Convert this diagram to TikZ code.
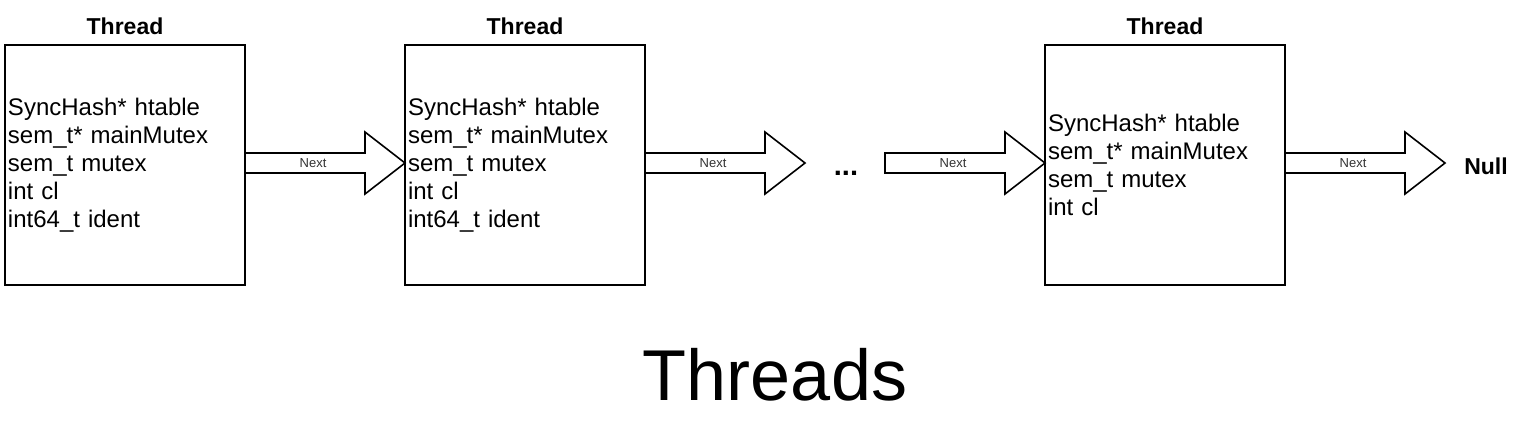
\documentclass[tikz,border=0pt]{standalone}
\usepackage{fontspec}
\setmainfont{Liberation Sans}
\usetikzlibrary{positioning,calc}

\tikzset{
  threadbox/.style={draw, line width=2pt, minimum width=240pt, minimum height=240pt,
    text width=234pt, inner xsep=3pt, inner ysep=0pt, outer sep=0pt, align=left,
    font=\fontsize{24}{28}\selectfont},
  threadtitle/.style={inner sep=0pt, font=\fontsize{23}{27}\selectfont\bfseries},
  arrowbody/.style={draw, fill=white, line width=1.6pt, line join=miter},
  nextlabel/.style={inner sep=1pt, font=\fontsize{13}{15}\selectfont, text=black!80},
  endlabel/.style={inner sep=0pt, font=\fontsize{23}{27}\selectfont\bfseries}
}

% block arrow from #1 to #2, label node #3
\newcommand{\nextarrow}[3]{%
  \draw[arrowbody] ($(#1)+(0,-12)$) -- ($(#2)+(-40,-12)$) -- ($(#2)+(-40,-33)$)
    -- ($(#2)+(0,-2)$) -- ($(#2)+(-40,29)$) -- ($(#2)+(-40,8)$) -- ($(#1)+(0,8)$) -- cycle;
  \node[nextlabel] (#3) at ($(#1)!0.425!(#2)+(0,-2)$) {Next};
}

\begin{document}
\begin{tikzpicture}[x=1pt,y=-1pt]

  \useasboundingbox (0,0) rectangle (1530,440);

  \node[threadbox] (t1) at (125,165) {SyncHash* htable\\sem\_t* mainMutex\\sem\_t mutex\\int cl\\int64\_t ident};
  \node[threadbox, right=160pt of t1] (t2) {SyncHash* htable\\sem\_t* mainMutex\\sem\_t mutex\\int cl\\int64\_t ident};
  \node[threadbox] (t3) at (1165,165) {SyncHash* htable\\sem\_t* mainMutex\\sem\_t mutex\\int cl};

  \node[threadtitle, above=10pt of t1] (h1) {Thread};
  \node[threadtitle, above=10pt of t2] (h2) {Thread};
  \node[threadtitle, above=10pt of t3] (h3) {Thread};

  \node[endlabel, anchor=base, font=\fontsize{29}{32}\selectfont\bfseries] (dots) at (846,175) {...};
  \node[endlabel, anchor=base] (null) at (1486,174) {Null};

  \coordinate (a2end) at (805,165);
  \coordinate (a3start) at (885,165);
  \coordinate (a4end) at (1445,165);

  \nextarrow{t1.east}{t2.west}{n1}
  \nextarrow{t2.east}{a2end}{n2}
  \nextarrow{a3start}{t3.west}{n3}
  \nextarrow{t3.east}{a4end}{n4}

  \node[anchor=base, inner sep=0pt, font=\fontsize{72}{80}\selectfont] (caption) at (775,400) {Threads};

\end{tikzpicture}
\end{document}
